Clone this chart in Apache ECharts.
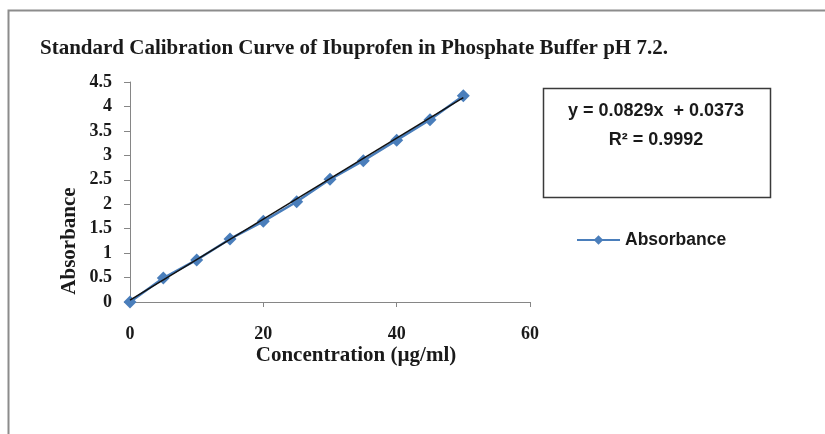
<!DOCTYPE html>
<html>
<head>
<meta charset="utf-8">
<script src="https://cdn.jsdelivr.net/npm/echarts@6/dist/echarts.min.js"></script>
<style>html,body{margin:0;padding:0;background:#fff}#c{width:825px;height:434px}</style>
</head>
<body>
<div id="c"></div>
<script>
var concentration = [0, 5, 10, 15, 20, 25, 30, 35, 40, 45, 50];
var absorbance = [0, 0.49, 0.86, 1.29, 1.65, 2.05, 2.51, 2.89, 3.31, 3.73, 4.22];
var trendX = [0, 50];
var trendY = [0.0373, 4.1823];
var xTicks = [0, 20, 40, 60];
var yTicks = [0, 0.5, 1, 1.5, 2, 2.5, 3, 3.5, 4, 4.5];
var titleText = 'Standard Calibration Curve of Ibuprofen in Phosphate Buffer pH 7.2.';
var yAxisTitle = 'Absorbance';
var xAxisTitle = 'Concentration (µg/ml)';
var eqLine1 = 'y = 0.0829x  + 0.0373';
var eqLine2 = 'R² = 0.9992';

var chart = echarts.init(document.getElementById('c'), null, {renderer: 'canvas'});
var serif = '"Liberation Serif", "DejaVu Serif", serif';
var sans = '"Liberation Sans", "Open Sans", sans-serif';
var axisGray = '#868686';
var ink = '#1a1a1a';

var option = {
  animation: false,
  backgroundColor: '#fff',
  title: {
    text: titleText,
    left: 35, top: 33,
    textStyle: {fontFamily: serif, fontSize: 21, fontWeight: 'bold', color: ink}
  },
  grid: {left: 130, top: 82, width: 400, height: 220, containLabel: false},
  xAxis: {
    type: 'value', min: 0, max: 60, interval: 20,
    axisLine: {show: true, onZero: false, lineStyle: {color: axisGray, width: 1}},
    axisTick: {show: true, length: 5, lineStyle: {color: axisGray}},
    splitLine: {show: false},
    axisLabel: {fontFamily: serif, fontSize: 18, fontWeight: 'bold', color: ink, margin: 23,
      formatter: function (v) { return xTicks.indexOf(v) >= 0 ? String(v) : ''; }}
  },
  yAxis: {
    type: 'value', min: 0, max: 4.5, interval: 0.5,
    axisLine: {show: true, lineStyle: {color: axisGray, width: 1}},
    axisTick: {show: true, length: 6, lineStyle: {color: axisGray}},
    splitLine: {show: false},
    axisLabel: {fontFamily: serif, fontSize: 18, fontWeight: 'bold', color: ink, margin: 18,
      formatter: function (v) { return yTicks.indexOf(v) >= 0 ? String(v) : ''; }}
  },
  legend: {
    data: ['Absorbance'],
    left: 571, top: 226,
    itemWidth: 43, itemHeight: 12, itemGap: 3,
    textStyle: {fontFamily: sans, fontSize: 17.5, fontWeight: 'bold', color: ink}
  },
  series: [
    {
      name: 'Absorbance', type: 'line',
      data: concentration.map(function (x, i) { return [x, absorbance[i]]; }),
      symbol: 'diamond', symbolSize: 13,
      lineStyle: {color: '#4A7EBB', width: 2.5},
      itemStyle: {color: '#4A7EBB'},
      z: 2
    },
    {
      name: 'Trend', type: 'line',
      data: trendX.map(function (x, i) { return [x, trendY[i]]; }),
      symbol: 'none',
      lineStyle: {color: '#111', width: 1.5},
      z: 3
    }
  ],
  graphic: [
    {type: 'polyline', shape: {points: [[8.5, 434], [8.5, 10.5], [825, 10.5]]},
      style: {stroke: '#8c8c8c', lineWidth: 2, fill: null}},
    {type: 'rect', shape: {x: 543.5, y: 88.5, width: 227, height: 109},
      style: {stroke: '#3a3a3a', lineWidth: 1.5, fill: '#fff'}},
    {type: 'text', x: 656, y: 111, style: {text: eqLine1, font: 'bold 18px ' + sans, fill: ink, align: 'center', verticalAlign: 'middle'}},
    {type: 'text', x: 656, y: 140, style: {text: eqLine2, font: 'bold 18px ' + sans, fill: ink, align: 'center', verticalAlign: 'middle'}},
    {type: 'text', x: 70, y: 241, rotation: Math.PI / 2,
      style: {text: yAxisTitle, font: 'bold 21px ' + serif, fill: ink, align: 'center', verticalAlign: 'middle'}},
    {type: 'text', x: 356, y: 356,
      style: {text: xAxisTitle, font: 'bold 21px ' + serif, fill: ink, align: 'center', verticalAlign: 'middle'}}
  ]
};
chart.setOption(option);
</script>
</body>
</html>
